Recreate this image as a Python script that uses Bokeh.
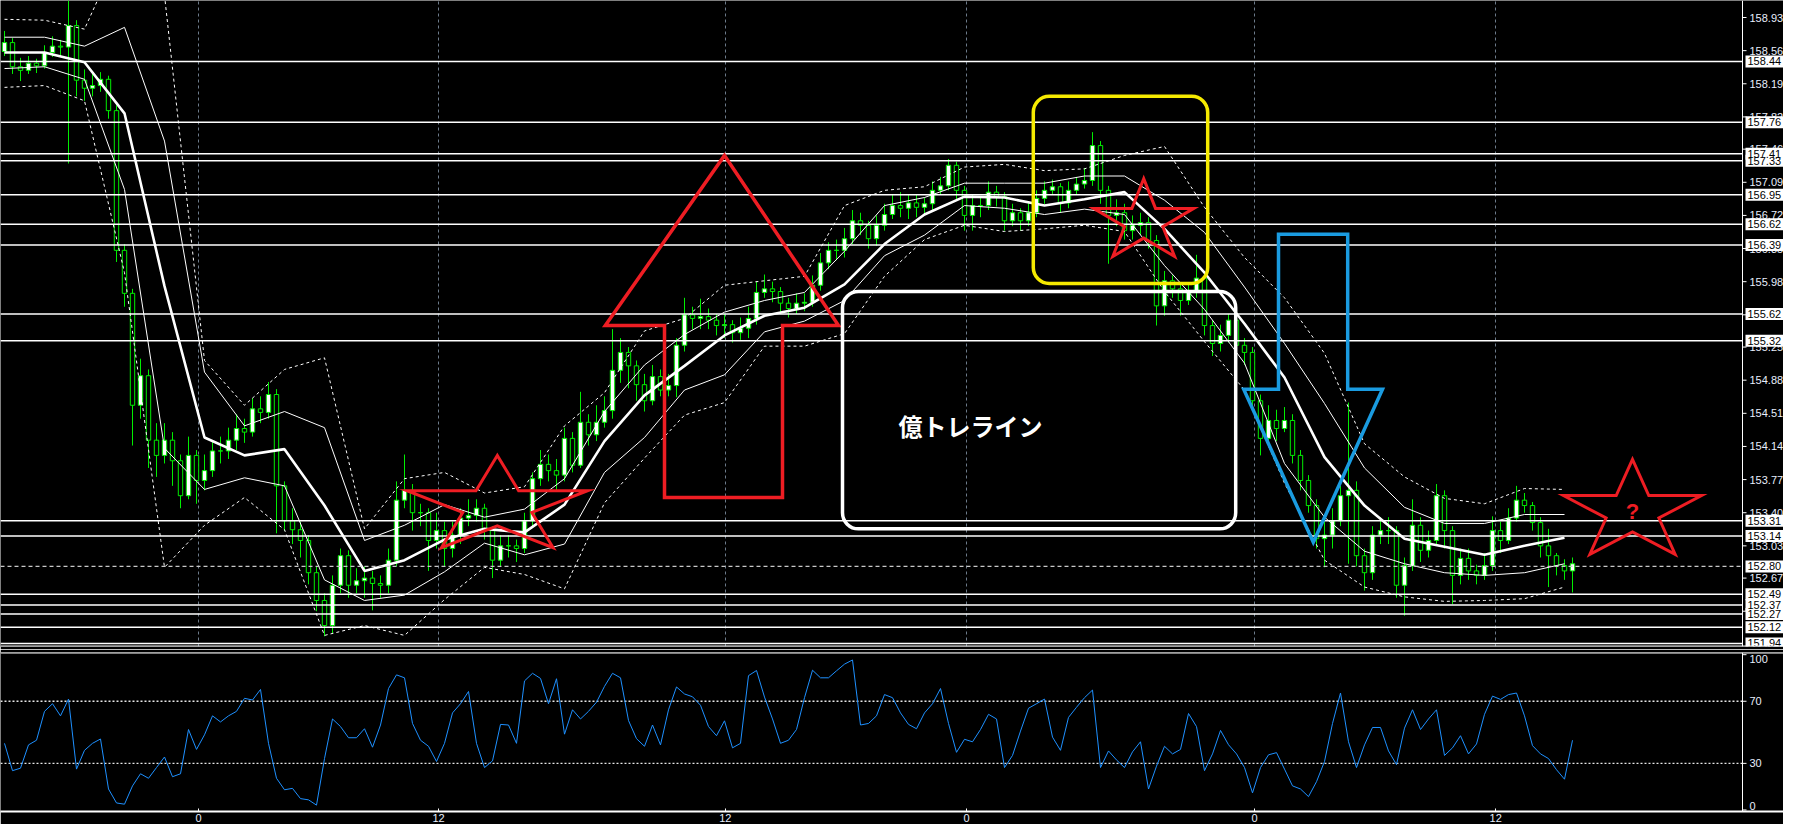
import math
from bokeh.plotting import figure
from bokeh.models import (Range1d, FixedTicker, Span, Label, BoxAnnotation,
                          ColumnDataSource)
from bokeh.layouts import column
from bokeh.embed import file_html
from bokeh.resources import INLINE
from bokeh.core.properties import value

# ---------------- data ----------------
first_open = 158.55
closes = [
    158.65, 158.38, 158.34, 158.42, 158.39, 158.54, 158.61, 158.60, 158.84, 158.23,
    158.14, 158.17, 158.24, 157.89, 156.33, 155.85, 154.60, 154.93, 154.21, 154.04,
    154.21, 153.98, 153.59, 154.04, 153.76, 153.87, 154.09, 154.09, 154.21, 154.34,
    154.30, 154.56, 154.52, 154.72, 153.70, 153.31, 153.21, 153.09, 152.73, 152.42,
    152.14, 152.59, 152.92, 152.59, 152.64, 152.67, 152.61, 152.59, 152.87, 153.54,
    153.65, 153.40, 153.40, 153.09, 153.20, 153.00, 153.15, 153.34, 153.37, 153.45,
    153.20, 152.87, 153.03, 153.03, 153.00, 153.31, 153.78, 153.94, 153.87, 153.82,
    154.23, 153.93, 154.41, 154.27, 154.41, 154.54, 154.99, 155.19, 155.04, 154.83,
    154.65, 154.92, 154.77, 154.82, 155.27, 155.61, 155.57, 155.59, 155.55, 155.49,
    155.50, 155.41, 155.46, 155.57, 155.86, 155.90, 155.87, 155.74, 155.68, 155.74,
    155.75, 155.94, 156.19, 156.33, 156.33, 156.46, 156.66, 156.61, 156.46, 156.61,
    156.73, 156.83, 156.80, 156.86, 156.81, 156.85, 157.00, 157.05, 157.28, 157.00,
    156.72, 156.83, 156.83, 156.98, 156.93, 156.66, 156.75, 156.66, 156.75, 156.91,
    157.00, 157.04, 156.86, 157.00, 157.07, 157.11, 157.50, 157.00, 156.72, 156.75,
    156.55, 156.61, 156.64, 156.44, 155.71, 155.99, 155.90, 155.77, 155.86, 156.02,
    155.49, 155.29, 155.38, 155.55, 155.27, 155.19, 154.65, 154.23, 154.43, 154.34,
    154.43, 154.04, 153.76, 153.48, 153.11, 153.15, 153.31, 153.59, 153.65, 152.92,
    152.73, 153.15, 153.20, 153.20, 152.59, 152.81, 153.26, 152.98, 153.09, 153.59,
    153.20, 152.70, 152.89, 152.75, 152.70, 152.81, 153.20, 153.09, 153.34, 153.54,
    153.48, 153.29, 153.03, 152.92, 152.81, 152.75, 152.83]
highs = [
    158.78, 158.70, 158.48, 158.50, 158.47, 158.62, 158.72, 158.68, 159.12, 158.90,
    158.35, 158.30, 158.32, 158.28, 157.95, 156.40, 155.90, 155.12, 155.00, 154.40,
    154.40, 154.30, 154.05, 154.25, 154.10, 154.05, 154.20, 154.25, 154.35, 154.50,
    154.45, 154.68, 154.70, 154.86, 154.78, 153.75, 153.45, 153.30, 153.15, 152.80,
    152.50, 152.70, 153.00, 152.98, 152.78, 152.80, 152.75, 152.70, 153.00, 153.75,
    154.05, 153.72, 153.50, 153.45, 153.40, 153.30, 153.30, 153.45, 153.55, 153.55,
    153.50, 153.25, 153.15, 153.15, 153.10, 153.40, 153.85, 154.10, 154.05, 154.00,
    154.35, 154.30, 154.75, 154.50, 154.60, 154.70, 155.45, 155.35, 155.25, 155.10,
    154.95, 155.05, 155.00, 154.95, 155.35, 155.80, 155.70, 155.79, 155.68, 155.62,
    155.62, 155.55, 155.58, 155.70, 155.98, 156.06, 155.98, 155.92, 155.80, 155.85,
    155.85, 156.05, 156.30, 156.42, 156.45, 156.58, 156.78, 156.75, 156.66, 156.72,
    156.85, 156.95, 156.98, 156.95, 156.95, 156.92, 157.10, 157.15, 157.35, 157.32,
    157.05, 156.95, 156.92, 157.10, 157.05, 156.98, 156.85, 156.80, 156.88, 157.00,
    157.10, 157.12, 157.08, 157.10, 157.15, 157.25, 157.65, 157.55, 157.05, 156.90,
    156.85, 156.72, 156.75, 156.70, 156.50, 156.10, 156.05, 155.95, 155.95, 156.28,
    156.08, 155.55, 155.50, 155.62, 155.60, 155.35, 155.25, 154.72, 154.60, 154.55,
    154.58, 154.50, 154.10, 153.82, 153.55, 153.30, 153.45, 153.70, 154.63, 153.75,
    153.00, 153.25, 153.35, 153.35, 153.25, 152.90, 153.55, 153.35, 153.20, 153.72,
    153.65, 153.25, 153.00, 153.00, 152.82, 152.95, 153.36, 153.30, 153.45, 153.70,
    153.62, 153.52, 153.35, 153.22, 152.95, 152.88, 152.90]
lows = [
    158.50, 158.30, 158.22, 158.30, 158.31, 158.36, 158.49, 158.50, 157.30, 158.05,
    158.00, 158.05, 158.10, 157.80, 156.20, 155.70, 154.15, 154.45, 153.90, 153.80,
    153.95, 153.70, 153.45, 153.55, 153.50, 153.65, 153.80, 153.95, 154.00, 154.10,
    154.18, 154.25, 154.40, 154.45, 153.17, 153.20, 153.05, 152.90, 152.60, 152.30,
    152.02, 152.05, 152.50, 152.45, 152.50, 152.45, 152.31, 152.45, 152.50, 152.80,
    153.45, 153.20, 153.25, 152.75, 153.00, 152.80, 152.90, 153.05, 153.25, 153.30,
    153.10, 152.67, 152.80, 152.90, 152.85, 152.95, 153.25, 153.70, 153.75, 153.65,
    153.75, 153.85, 153.90, 154.15, 154.20, 154.35, 154.45, 154.85, 154.79, 154.65,
    154.53, 154.60, 154.70, 154.70, 154.69, 155.20, 155.45, 155.45, 155.45, 155.38,
    155.35, 155.30, 155.33, 155.35, 155.50, 155.80, 155.75, 155.62, 155.58, 155.62,
    155.65, 155.70, 155.88, 156.12, 156.22, 156.25, 156.40, 156.50, 156.35, 156.38,
    156.55, 156.68, 156.70, 156.68, 156.70, 156.72, 156.78, 156.95, 157.00, 156.90,
    156.55, 156.55, 156.70, 156.78, 156.82, 156.55, 156.60, 156.55, 156.60, 156.70,
    156.85, 156.95, 156.75, 156.80, 156.95, 157.02, 157.05, 156.85, 156.18, 156.60,
    156.45, 156.45, 156.50, 156.35, 155.49, 155.60, 155.80, 155.60, 155.72, 155.80,
    155.38, 155.15, 155.20, 155.30, 155.15, 155.05, 154.55, 154.04, 154.15, 154.20,
    154.30, 153.95, 153.65, 153.40, 153.00, 152.79, 153.00, 153.25, 152.83, 152.80,
    152.53, 152.65, 153.05, 153.05, 152.45, 152.25, 152.75, 152.85, 152.90, 153.05,
    153.00, 152.38, 152.60, 152.65, 152.60, 152.65, 152.75, 152.95, 153.05, 153.30,
    153.40, 153.20, 152.90, 152.57, 152.70, 152.65, 152.51]

# band lines, one value every 5 bars
band_idx = list(range(0, 200, 5))
band_up2 = [158.91, 158.90, 158.80, 159.79, 159.18, 155.10, 154.60, 155.00, 155.13, 153.22,
            153.78, 153.85, 153.62, 153.69, 154.37, 154.74, 155.43, 155.57, 155.94, 155.99,
            156.04, 156.83, 157.00, 157.04, 157.26, 157.29, 157.22, 157.24, 157.39, 157.49,
            156.81, 156.25, 155.80, 155.18, 154.17, 153.80, 153.56, 153.50, 153.67, 153.66]
band_up1 = [158.71, 158.71, 158.61, 158.82, 157.55, 154.97, 154.37, 154.53, 154.35, 153.09,
            153.26, 153.49, 153.35, 153.44, 153.78, 154.53, 155.05, 155.39, 155.64, 155.77,
            155.86, 156.32, 156.83, 156.92, 157.08, 157.08, 157.08, 157.16, 157.16, 156.89,
            156.53, 155.92, 155.29, 154.62, 153.90, 153.46, 153.28, 153.28, 153.38, 153.38]
band_mid = [158.54, 158.54, 158.43, 157.86, 155.93, 154.24, 154.04, 154.11, 153.48, 152.75,
            152.87, 153.10, 153.22, 153.18, 153.49, 154.20, 154.71, 155.04, 155.38, 155.60,
            155.69, 155.95, 156.40, 156.73, 156.93, 156.92, 156.83, 156.90, 156.98, 156.57,
            156.08, 155.51, 154.91, 154.02, 153.48, 153.11, 153.02, 152.93, 153.03, 153.12]
band_lo1 = [158.36, 158.38, 158.24, 157.01, 154.12, 153.66, 153.79, 153.70, 152.65, 152.42,
            152.48, 152.74, 153.06, 152.93, 153.05, 153.85, 154.24, 154.77, 154.94, 155.42,
            155.54, 155.77, 156.27, 156.50, 156.83, 156.80, 156.73, 156.79, 156.73, 156.16,
            155.67, 155.07, 153.95, 153.35, 152.97, 152.83, 152.73, 152.70, 152.73, 152.83]
band_lo2 = [158.15, 158.17, 158.00, 156.08, 152.79, 153.26, 153.57, 153.21, 152.03, 152.14,
            152.03, 152.43, 152.79, 152.71, 152.55, 153.51, 154.01, 154.49, 154.63, 155.26,
            155.26, 155.40, 156.04, 156.45, 156.61, 156.54, 156.57, 156.61, 156.54, 155.87,
            155.31, 154.77, 153.73, 152.87, 152.57, 152.46, 152.41, 152.42, 152.44, 152.57]

osc = [42.9, 25.3, 26.9, 41.9, 44.9, 63.5, 68.4, 60.6, 71.4, 26.3,
       38.4, 42.9, 45.7, 13.5, 4.5, 3.7, 15.5, 23.3, 20.4, 27.3,
       34.1, 21.4, 23.3, 51.8, 39.0, 48.4, 60.6, 56.7, 60.6, 63.5,
       71.9, 70.8, 77.6, 42.9, 20.4, 13.0, 13.9, 7.3, 6.5, 3.1,
       33.1, 58.6, 53.7, 46.5, 46.5, 52.3, 40.4, 54.7, 78.2, 87.0,
       85.1, 55.7, 44.9, 41.0, 31.2, 42.9, 62.5, 68.4, 76.3, 42.9,
       27.3, 31.6, 55.1, 54.7, 42.9, 83.1, 88.0, 84.7, 68.4, 84.5,
       48.8, 64.5, 58.6, 63.5, 69.4, 79.6, 88.0, 85.1, 57.6, 45.9,
       41.0, 54.7, 41.9, 64.5, 79.2, 74.7, 72.9, 67.4, 53.7, 47.8,
       57.4, 40.0, 42.9, 86.5, 89.8, 72.7, 58.6, 42.9, 44.9, 51.8,
       72.3, 90.0, 85.1, 85.1, 89.6, 93.9, 96.6, 54.7, 55.7, 60.6,
       74.3, 72.3, 62.5, 55.1, 52.3, 62.5, 68.4, 78.2, 55.7, 37.1,
       45.5, 43.9, 51.8, 61.6, 58.6, 27.3, 35.1, 50.8, 65.5, 68.4,
       71.4, 46.9, 38.4, 59.6, 66.1, 72.3, 77.2, 27.3, 38.0, 32.2,
       27.3, 37.4, 43.9, 13.5, 28.2, 41.0, 36.1, 39.0, 62.1, 53.7,
       25.3, 36.1, 51.2, 42.0, 36.1, 27.3, 11.0, 27.3, 35.5, 36.9,
       26.3, 15.5, 13.5, 8.6, 18.2, 31.2, 55.7, 75.3, 43.9, 27.3,
       41.9, 53.1, 53.1, 38.0, 29.2, 52.7, 64.5, 51.8, 58.6, 64.5,
       35.1, 40.0, 47.8, 36.1, 42.5, 61.6, 73.3, 71.2, 74.3, 75.3,
       60.6, 41.4, 36.1, 33.1, 25.9, 19.8, 44.9]

# horizontal price lines drawn on the chart
hline_prices = [158.44, 157.76, 157.41, 157.33, 156.95, 156.62, 156.39, 155.62, 155.32,
                153.31, 153.14, 152.49, 152.37, 152.27, 152.12, 151.94]
dashed_price = 152.80

# axis ticks
y_ticks = [158.93, 158.56, 158.19, 157.82, 157.46, 157.09, 156.72, 156.35, 155.98, 155.61,
           155.25, 154.88, 154.51, 154.14, 153.77, 153.40, 153.03, 152.67, 152.30]
x_tick_pos = [24.25, 54.25, 90.1, 120.25, 156.25, 186.4]
x_tick_lab = ["0", "12", "12", "0", "0", "12"]
osc_ticks = [0, 30, 70, 100]
osc_levels = [70, 30]

# hand-drawn annotations (bar index, price)
up_arrow_x = [90.0, 104.25, 97.25, 97.25, 82.5, 82.5, 75.1]
up_arrow_y = [157.39, 155.49, 155.49, 153.57, 153.57, 155.49, 155.49]
down_arrow_x = [159.25, 167.9, 167.9, 172.25, 163.6, 154.9, 159.25]
down_arrow_y = [156.51, 156.51, 154.78, 154.78, 153.07, 154.78, 154.78]
yellow_box = (128.6, 150.4, 158.05, 155.96)   # left, right, top, bottom
white_box = (104.75, 153.9, 155.87, 153.22)
stars = [(61.6, 153.47, 95, 51), (142.4, 156.65, 52.6, 43), (203.5, 153.41, 72.6, 52.5)]
note_text = "億トレライン"
note_pos = (120.75, 154.37)

# ---------------- styling / layout ----------------
W = 1783
H1, H2 = 649, 175
RB = 41
PX_X, PX_Y = 8.0, 89.55            # pixels per bar, pixels per yen
X_LO = -0.5
AXIS_X = X_LO + (W - RB) / PX_X     # price-scale line
X_FULL = X_LO + W / PX_X
Y_LO, Y_HI = 151.906, 159.12
OSC_LO, OSC_HI = -1.0, 101.4
GREEN = "#00ee00"
RED = "#ee1d23"
BLUE = "#1a9be0"
YELLOW = "#f5ea00"
FONT = "Liberation Sans"
LABEL_COLOR = "#e8eefc"

n = min(len(closes), len(highs), len(lows))
idx = list(range(n))
opens = [first_open] + closes[:n - 1]
src = ColumnDataSource(dict(
    x=idx, h=highs[:n], l=lows[:n],
    top=[max(o, c) for o, c in zip(opens, closes[:n])],
    bot=[min(o, c) for o, c in zip(opens, closes[:n])],
    fill=["white" if c >= o else "black" for o, c in zip(opens, closes[:n])],
))

xr = Range1d(X_LO, X_FULL)
p1 = figure(width=W, height=H1, x_range=xr, y_range=Range1d(Y_LO, Y_HI),
            output_backend="svg", toolbar_location=None, y_axis_location=None,
            background_fill_color="black", border_fill_color="black", outline_line_color=None,
            min_border_left=0, min_border_right=0, min_border_top=0, min_border_bottom=3)
p1.xaxis.visible = False
p1.xgrid.ticker = FixedTicker(ticks=x_tick_pos)
p1.xgrid.grid_line_color = "#6d7b8a"
p1.xgrid.grid_line_dash = "3 3"
p1.ygrid.grid_line_color = None

# candles
p1.segment(x0="x", y0="h", x1="x", y1="l", line_color=GREEN, line_width=1, source=src)
p1.vbar(x="x", width=0.55, top="top", bottom="bot", fill_color="fill",
        line_color=GREEN, line_width=1, source=src)

# bands
p1.line(band_idx, band_up2, line_color="white", line_width=1, line_dash="3 3")
p1.line(band_idx, band_lo2, line_color="white", line_width=1, line_dash="3 3")
p1.line(band_idx, band_up1, line_color="white", line_width=1)
p1.line(band_idx, band_lo1, line_color="white", line_width=1)
p1.line(band_idx, band_mid, line_color="white", line_width=2.6)

# horizontal price lines (end at the price scale)
nh = len(hline_prices)
p1.segment(x0=[X_LO] * nh, x1=[AXIS_X] * nh, y0=hline_prices, y1=hline_prices,
           line_color="white", line_width=1.5)
p1.segment(x0=[X_LO], x1=[AXIS_X], y0=[dashed_price], y1=[dashed_price],
           line_color="#c8c8c8", line_width=1.2, line_dash="4 3")

# price scale on the right: line, ticks, tick labels
p1.add_layout(Span(location=AXIS_X, dimension="height", line_color="white", line_width=1))
nt = len(y_ticks)
p1.segment(x0=[AXIS_X] * nt, x1=[AXIS_X + 4 / PX_X] * nt, y0=y_ticks, y1=y_ticks,
           line_color="white", line_width=1)
p1.text(x=[AXIS_X + 7 / PX_X] * nt, y=y_ticks, text=[f"{t:.2f}" for t in y_ticks],
        text_color=LABEL_COLOR, text_font=value(FONT), text_font_size=value("11px"),
        text_baseline="middle", text_align="left")

# boxed labels of the price lines
box_prices = hline_prices + [dashed_price]
nb = len(box_prices)
p1.rect(x=[AXIS_X + 23 / PX_X] * nb, y=box_prices, width=40, height=12,
        width_units="screen", height_units="screen", fill_color="white", line_color=None)
p1.text(x=[AXIS_X + 5 / PX_X] * nb, y=box_prices, text=[f"{v:.2f}" for v in box_prices],
        text_color="black", text_font=value(FONT), text_font_size=value("11px"),
        text_baseline="middle", text_align="left")

p1.add_layout(Span(location=Y_LO, dimension="width", line_color="white", line_width=2))

# annotations
p1.patch(up_arrow_x, up_arrow_y, fill_color=None, line_color=RED, line_width=3.5, line_join="miter")
p1.patch(down_arrow_x, down_arrow_y, fill_color=None, line_color=BLUE, line_width=3.5, line_join="miter")
l, r, t, b = yellow_box
p1.add_layout(BoxAnnotation(left=l, right=r, top=t, bottom=b, fill_alpha=0, fill_color=None,
                            line_color=YELLOW, line_width=3.5, line_alpha=1, border_radius=16))
l, r, t, b = white_box
p1.add_layout(BoxAnnotation(left=l, right=r, top=t, bottom=b, fill_alpha=0, fill_color=None,
                            line_color="white", line_width=3.5, line_alpha=1, border_radius=16))
for cx, cy, rx, ry in stars:
    xs, ys = [], []
    for k in range(10):
        ang = math.pi / 2 + k * math.pi / 5
        rr = 1.0 if k % 2 == 0 else 0.382
        xs.append(cx + rr * rx * math.cos(ang) / PX_X)
        ys.append(cy + rr * ry * math.sin(ang) / PX_Y)
    p1.patch(xs, ys, fill_color=None, line_color=RED, line_width=3, line_join="miter")
p1.add_layout(Label(x=stars[2][0], y=stars[2][1], text="?", text_align="center",
                    text_baseline="middle", text_color=RED, text_font=FONT,
                    text_font_style="bold", text_font_size="22px"))
p1.add_layout(Label(x=note_pos[0], y=note_pos[1], text=note_text, text_align="center",
                    text_baseline="middle", text_color="white", text_font="Noto Sans CJK JP",
                    text_font_style="bold", text_font_size="24px"))

# ---------------- oscillator panel ----------------
p2 = figure(width=W, height=H2, x_range=xr, y_range=Range1d(OSC_LO, OSC_HI),
            output_backend="svg", toolbar_location=None, y_axis_location=None,
            background_fill_color="black", border_fill_color="black", outline_line_color=None,
            min_border_left=0, min_border_right=0, min_border_top=3, min_border_bottom=0)
p2.xgrid.grid_line_color = None
p2.ygrid.grid_line_color = None
nl = len(osc_levels)
p2.segment(x0=[X_LO] * nl, x1=[AXIS_X] * nl, y0=osc_levels, y1=osc_levels,
           line_color="#e6e6e6", line_width=1.3, line_dash="2 2")
p2.add_layout(Span(location=OSC_HI, dimension="width", line_color="white", line_width=2))
p2.line(idx, osc[:n], line_color="#1e90ff", line_width=1)

# oscillator scale on the right
p2.add_layout(Span(location=AXIS_X, dimension="height", line_color="white", line_width=1))
no = len(osc_ticks)
p2.segment(x0=[AXIS_X] * no, x1=[AXIS_X + 4 / PX_X] * no, y0=osc_ticks, y1=osc_ticks,
           line_color="white", line_width=1)
p2.text(x=[AXIS_X + 7 / PX_X] * no, y=osc_ticks, text=[str(t) for t in osc_ticks],
        text_color=LABEL_COLOR, text_font=value(FONT), text_font_size=value("11px"),
        text_baseline=["bottom" if t == min(osc_ticks) else ("top" if t == max(osc_ticks) else "middle")
                       for t in osc_ticks],
        text_align="left")

xax = p2.xaxis[0]
xax.ticker = FixedTicker(ticks=x_tick_pos)
xax.major_label_overrides = {pos: lab for pos, lab in zip(x_tick_pos, x_tick_lab)}
xax.axis_line_color = "white"
xax.axis_line_width = 2
xax.major_tick_line_color = "white"
xax.major_tick_out = 0
xax.major_tick_in = 3
xax.minor_tick_line_color = None
xax.major_label_standoff = 2
xax.major_label_text_color = LABEL_COLOR
xax.major_label_text_font = FONT
xax.major_label_text_font_size = "11px"

layout = column(p1, p2)
html = file_html(layout, INLINE)
html = html.replace("<body>", '<body style="background-color:#000000;">', 1)
open("out.html", "w").write(html)
